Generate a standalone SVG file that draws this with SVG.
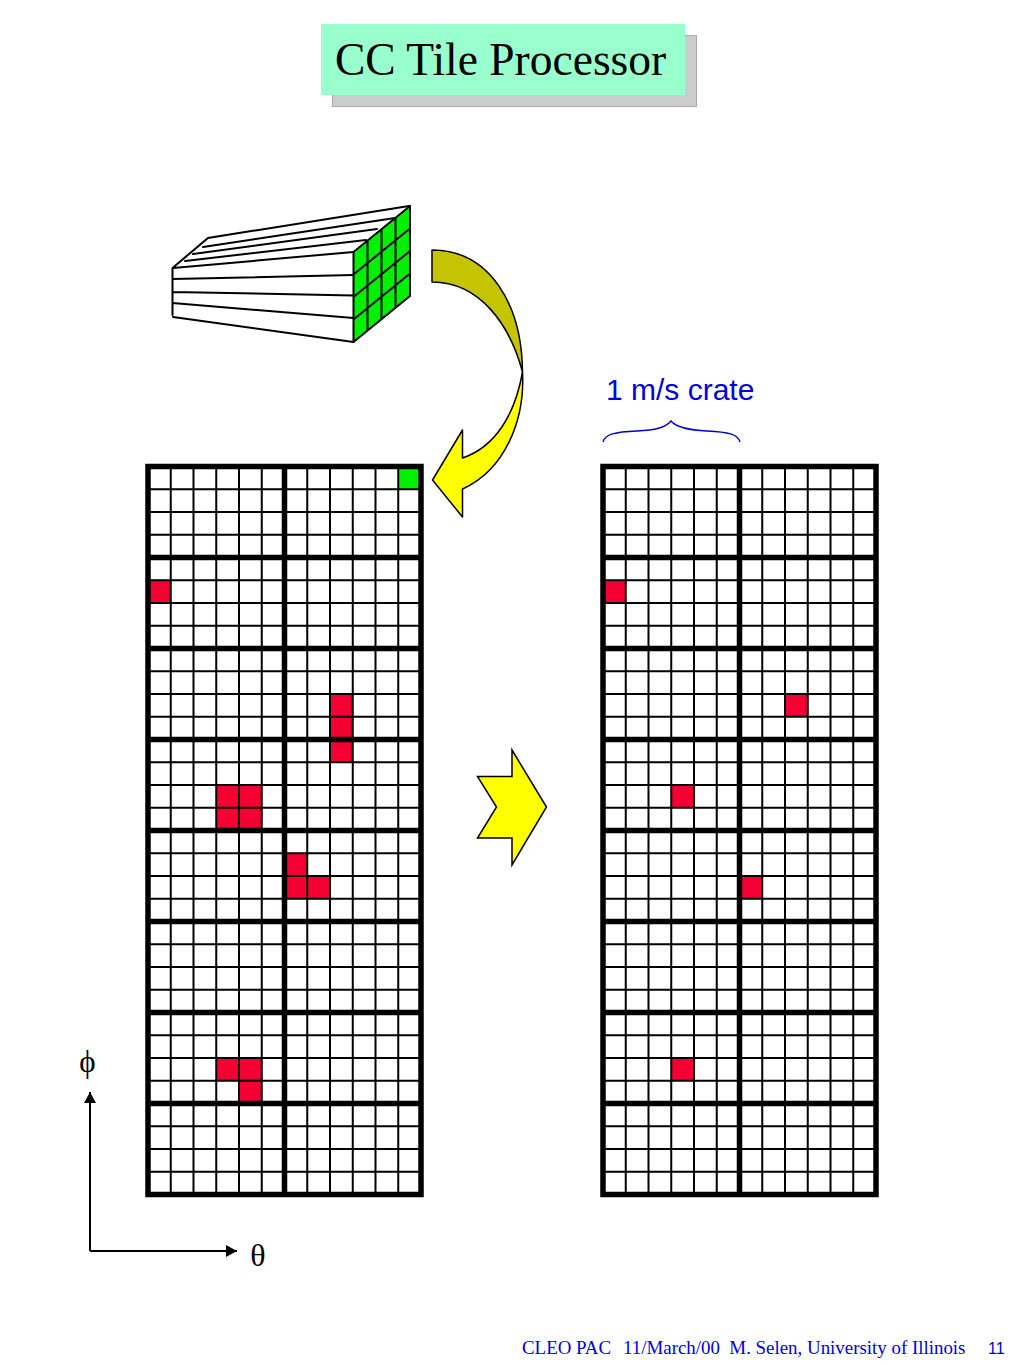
<svg xmlns="http://www.w3.org/2000/svg" xmlns:xlink="http://www.w3.org/1999/xlink" width="1024" height="1365" viewBox="0 0 1024 1365">
<style>
.thin{stroke:#000;stroke-width:2;fill:none}
.thick{stroke:#000;stroke-width:5.5;fill:none}
.red{fill:#f50032}
.green{fill:#00f000}
.ln{stroke:#000;stroke-width:2;fill:none;stroke-linecap:round}
.sy{font-family:"Liberation Serif","DejaVu Serif",serif;fill:#000}
</style>
<defs>
<marker id="ah" markerUnits="userSpaceOnUse" markerWidth="12" markerHeight="13" refX="11" refY="6" orient="auto"><path d="M0 0L11 6L0 12Z" fill="#000"/></marker>
<g id="grid">
<path class="thin" d="M22.75 0V728M45.5 0V728M68.25 0V728M91 0V728M113.75 0V728M159.25 0V728M182 0V728M204.75 0V728M227.5 0V728M250.25 0V728"/>
<path class="thin" d="M0 22.75H273M0 45.5H273M0 68.25H273M0 113.75H273M0 136.5H273M0 159.25H273M0 204.75H273M0 227.5H273M0 250.25H273M0 295.75H273M0 318.5H273M0 341.25H273M0 386.75H273M0 409.5H273M0 432.25H273M0 477.75H273M0 500.5H273M0 523.25H273M0 568.75H273M0 591.5H273M0 614.25H273M0 659.75H273M0 682.5H273M0 705.25H273"/>
<path class="thick" d="M0 0H273V728H0ZM136.5 0V728M0 91H273M0 182H273M0 273H273M0 364H273M0 455H273M0 546H273M0 637H273"/>
</g>
</defs>
<g id="title">
<rect x="332.5" y="35.5" width="364" height="71" fill="#cccccc" stroke="#aaa" stroke-width="1"/>
<rect x="321" y="24" width="364" height="71" fill="#99ffcc"/>
<text x="335" y="75" font-family="'Liberation Serif',serif" font-size="45.500" fill="#000">CC Tile Processor</text>
</g>
<g id="block">
<path class="green" d="M353.5 252L409.5 206L410 296L353.5 342Z"/>
<path class="ln" d="M172.5 268V315M172.5 268L208 238L409 206M173 268L353.5 252M185 261L366 240M193 254L377 229M203 247L395 218M172.5 279L353.5 275M172.5 292L353.5 295.500M172.5 303L353.5 318M173 317L353.5 342"/>
<path d="M353.500 252V342L410 296V206ZM367.500 240.500V330.500M381.500 229V319M395.500 217.500V307.500M353.500 274.500L410 228.500M353.500 297L410 251M353.500 319.500L410 273.500" fill="none" stroke="#000" stroke-width="2" stroke-linejoin="round"/>
</g>
<g id="curved-arrow">
<path d="M432 250C490 250 522 305 522.500 372C510 325 480 282 432 282Z" fill="#c4c400" stroke="#000" stroke-width="1.500" stroke-linejoin="round"/>
<path d="M522.500 372C525 420 505 470 462.500 489V517L432.500 480L462.500 430V458C495 447 515 415 522.500 372Z" fill="#ffff00" stroke="#000" stroke-width="1.500" stroke-linejoin="round"/>
</g>
<g id="label-crate">
<text x="606" y="400" font-family="'Liberation Sans',sans-serif" font-size="30" fill="#0000dd">1 m/s crate</text>
<path d="M603 442C605 434 615 432 637 431C655 430 665 428 671 421C677 428 690 430 707 431C728 432 738 434 740 442" fill="none" stroke="#0000cc" stroke-width="1.500"/>
</g>
<g id="grid-left">
<rect x="148" y="466.500" width="273" height="728" fill="#fff"/>
<g>
<rect class="green" x="398.250" y="466.500" width="22.750" height="22.750"/>
<rect class="red" x="148" y="580.250" width="22.750" height="22.750"/>
<rect class="red" x="330" y="694" width="22.750" height="68.250"/>
<rect class="red" x="216.250" y="785" width="45.500" height="45.500"/>
<rect class="red" x="284.500" y="853.250" width="22.750" height="45.500"/>
<rect class="red" x="307.250" y="876" width="22.750" height="22.750"/>
<rect class="red" x="216.250" y="1058" width="45.500" height="22.750"/>
<rect class="red" x="239" y="1080.750" width="22.750" height="22.750"/>
</g>
<use xlink:href="#grid" href="#grid" x="148" y="466.500"/>
</g>
<g id="grid-right">
<rect x="603" y="466.500" width="273" height="728" fill="#fff"/>
<g>
<rect class="red" x="603" y="580.250" width="22.750" height="22.750"/>
<rect class="red" x="785" y="694" width="22.750" height="22.750"/>
<rect class="red" x="671.250" y="785" width="22.750" height="22.750"/>
<rect class="red" x="739.500" y="876" width="22.750" height="22.750"/>
<rect class="red" x="671.250" y="1058" width="22.750" height="22.750"/>
</g>
<use xlink:href="#grid" href="#grid" x="603" y="466.500"/>
</g>
<g id="block-arrow">
<path d="M512 750L546.500 807L512 865V838H477.500L496.500 807L477.500 776.500H512Z" fill="#ffff00" stroke="#000" stroke-width="1.500" stroke-linejoin="miter"/>
</g>
<g id="connectors">
<path d="M90 1251V1092" fill="none" stroke="#000" stroke-width="2" marker-end="url(#ah)"/>
<path d="M90 1251H237" fill="none" stroke="#000" stroke-width="2" marker-end="url(#ah)"/>
</g>
<g id="axis-labels">
<text class="sy" x="87.500" y="1072" text-anchor="middle" font-size="31">ϕ</text>
<text class="sy" x="258" y="1266" text-anchor="middle" font-size="32">θ</text>
</g>
<g id="footer">
<text x="522" y="1354" font-family="'Liberation Serif',serif" font-size="18.900" fill="#0000dd" xml:space="preserve">CLEO PAC  <tspan dx="2.500">11/March/00  M. Selen, University of Illinois</tspan></text>
<text x="988" y="1354" font-family="'Liberation Sans',sans-serif" font-size="16" fill="#0000dd">11</text>
</g>
</svg>
